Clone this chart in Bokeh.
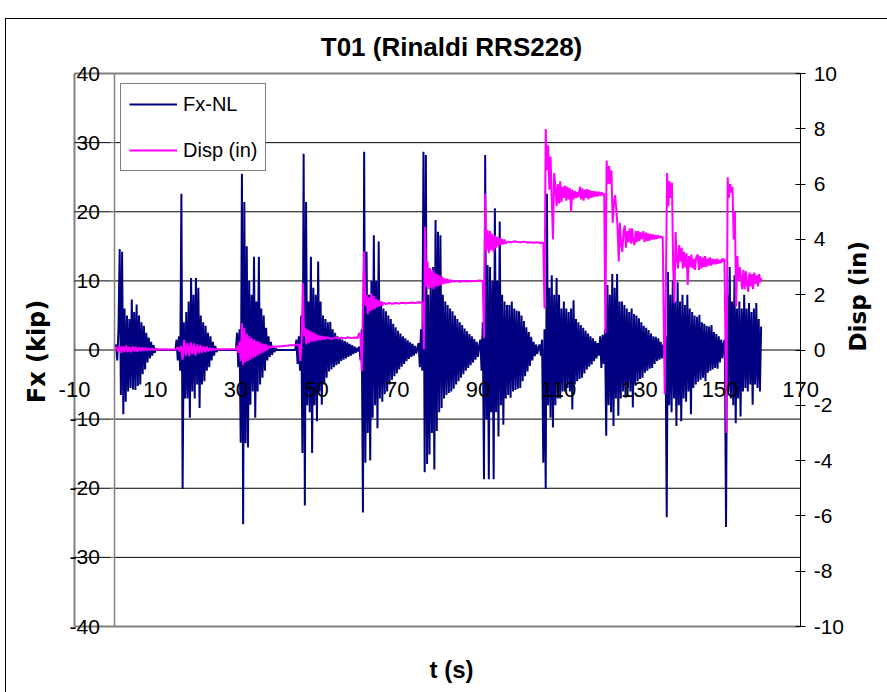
import math
from bokeh.plotting import figure
from bokeh.models import Range1d, LinearAxis, FixedTicker, Legend, LegendItem
from bokeh.embed import file_html
from bokeh.resources import INLINE

# ---------------- data ----------------
title_text = "T01 (Rinaldi RRS228)"
x_ticks = [-10, 10, 30, 50, 70, 90, 110, 130, 150, 170]
fx_ticks = [-40, -30, -20, -10, 0, 10, 20, 30, 40]
disp_ticks = [-10, -8, -6, -4, -2, 0, 2, 4, 6, 8, 10]
t_min, t_max = -10, 170
fx_min, fx_max = -40, 40
disp_min, disp_max = -10, 10

# Fx-NL (kip): bursts sampled every 0.3 s, each with its start time
fx_step = 0.3
fx_starts = [0.0, 15.0, 30.0, 44.7, 60.6, 75.3, 90.6, 105.3, 120.3, 136.2, 151.2]
fx_burst1 = [0, 0.8, -1.5, 3, 14.6, -6.5, 14.2, -9.3, 6, -7.5, 5, -6, 4.5, -5.5, 7.3, -5.7, 5.5, -5.8,
             6.6, -5.2, 5, -5, 4, -3.5, 3.5, -2.8, 2.5, -1.8, 1.8, -1.2, 1.2, -0.8, 0.7, -0.4, 0.2, 0]
fx_burst2 = [0, 1.5, -1.5, 2, -3, 22.6, -20.1, 4, -7, 5.5, -7, 7, -9.8, 10.4, -6, 8, -7, 10.4, -5, 9,
             -8.4, 5, -5, 4, -4.5, 3.5, -3, 2.5, -2.5, 2, -1.5, 1.2, -0.8, 0.6, -0.3, 0.1, 0]
fx_burst3 = [0, 2.5, -2.5, 3, -13.4, 25.5, -25.2, 21.4, -13.5, 15, -14.1, 10, -7.9, 8, -6, 13.5, -9.8,
             7, -6, 13.5, -5, 6, -4, 5, -3, 3.2, -1.5, 2, -1, 1.2, -0.7, 0.6, -0.3, 0.2, 0]
fx_burst4 = [0, 1.5, -2, 2, -3, 5, -14.9, 28.4, -22.5, 21.4, -8, 7, -9, 13.5, -14.9, 9, -8, 8, -10.3,
             12.8, -6, 7, -7.9, 5, -5, 4.5, -4, 4, -3.1, 4.1, -2.8, 3, -2.5, 2.5, -2.2, 2, -2, 1.8,
             -1.6, 1.5, -1.4, 1.3, -1.2, 1.1, -1, 0.9, -0.8, 0.7, -0.6, 0.5, -0.4, 0.3, -0.2]
fx_burst5 = [0.5, -1.5, 3, -23.5, 28.7, -16.3, 14.2, -12, 8, -16, 10, -9.8, 16.6, -8, 10, -11.3, 15.7,
             -7, 7, -7.5, 6, -6.4, 5.6, -6, 5, -5, 4.5, -4.3, 3.8, -3.8, 3.3, -3.4, 2.8, -2.8, 2.4,
             -2.4, 2, -2, 1.7, -1.6, 1.4, -1.3, 1.1, -1, 0.9, -0.8, 0.6, -0.5, 0.3]
fx_burst6 = [1, -2.5, 3, -3, 28.7, -17.7, 28.2, -16.5, 8, -15.1, 10, -12, 12, -17.3, 18.8, -11.7, 17.1,
             -9, 16.6, -8.4, 8, -7, 7, -6.5, 6.5, -6.2, 6, -6, 5.6, -5.6, 5, -5, 4.5, -4.5, 4, -4,
             3.6, -3.5, 3.1, -3, 2.7, -2.6, 2.3, -2.2, 2, -1.8, 1.6, -1.4, 1.2, -1, 0.6]
fx_burst7 = [1.5, -3, 4, -18.7, 28.2, -10, 12.3, -18.7, 12, -9, 10, -18.7, 20.5, -9, 10, -12.5, 18.6,
             -8, 8, -10.8, 7, -7, 6.5, -6.5, 6.5, -6.9, 7, -6, 6, -5.8, 5.7, -5.6, 5.6, -5.5, 5,
             -4.5, 4.2, -3.8, 3.3, -3.1, 2.6, -2.3, 1.9, -1.5, 1.2, -0.9, 0.8, -0.6, 0.4]
fx_burst8 = [0.8, -0.8, 1.5, -16.3, 3, -20.1, 22.6, -8, 9, -9.8, 10.8, -11.2, 8, -8, 10.4, -7, 8, -7,
             6, -6, 7, -6, 6, -5.5, 5.5, -6, 6, -8.6, 7.2, -5, 4.5, -4.5, 4, -4.2, 3.6, -4, 3.2,
             -3.4, 2.8, -2.8, 2.4, -2.4, 2, -2.1, 1.7, -1.6, 1.3, -1.2, 1, -0.8]
fx_burst9 = [2, -2.6, 2.2, -2, 3, -12.4, 9.4, -8, 8, -9, 11, -11, 9, -7, 11, -9.5, 7, -7, 7, -6, 6.5,
             -6.9, 6, -5.5, 5.5, -6, 6, -8.3, 5.2, -5, 5, -4.5, 4.6, -4.2, 4, -4, 3.5, -3.3, 3.2, -3,
             2.9, -2.7, 2.4, -2.6, 2, -2, 1.9, -1.6, 1.7, -1.4, 1.2, -1.2, 0.8]
fx_burst10 = [-1, 2, -24.2, 11.3, -8, 8, -9, 10.1, -7, 7, -11, 9.8, -8, 7, -10.3, 8, -7, 6.5, -7.5, 8,
              -6, 6, -9.3, 5.5, -5.5, 5, -5, 4.8, -4.6, 5.1, -4.3, 4, -4, 3.8, -4.5, 3.5, -3.3, 3.4,
              -3, 3.6, -2.8, 2.6, -2.6, 2.3, -2.7, 2, -1.8, 1.5, -1.2, 1]
fx_burst11 = [1.5, -25.6, 8, -6, 12, -7, 7, -8, 10.8, -10.6, 6, -7, 7, -9.6, 6, -6, 8, -5.5, 6, -6,
              6.8, -5, 5.5, -7.9, 6, -5, 6.8, -5.5, 4.5, -6, 3.4]
fx_bursts = [fx_burst1, fx_burst2, fx_burst3, fx_burst4, fx_burst5, fx_burst6,
             fx_burst7, fx_burst8, fx_burst9, fx_burst10, fx_burst11]

# Disp (in): segments (start time, sample step, values)
disp_starts = [0.0, 15.2, 30.0, 38.4, 45.7, 53.0, 60.6, 67.2, 76.3, 84.0,
               91.5, 97.4, 106.5, 115.3, 121.6, 131.0, 136.3, 144.5, 151.3]
disp_steps = [0.4, 0.4, 0.3, 1.0, 0.3, 0.8, 0.3, 0.8, 0.3, 0.8,
              0.3, 0.8, 0.3, 0.3, 0.3, 0.3, 0.3, 0.3, 0.3]
disp_seg1 = [0, 0.12, -0.06, 0.15, -0.1, 0.14, -0.08, 0.16, -0.07, 0.12, -0.08, 0.13, -0.05, 0.12,
             -0.06, 0.1, -0.04, 0.09, -0.03, 0.08, -0.02, 0.06, 0, 0.05, 0.01, 0.03]
disp_seg2 = [0.02, 0.1, -0.05, 0.15, -0.35, 0.37, -0.2, 0.25, -0.22, 0.28, -0.15, 0.24, -0.2, 0.2,
             -0.12, 0.18, -0.1, 0.14, -0.08, 0.12, -0.05, 0.08, -0.02, 0.05, 0.01, 0.03]
disp_seg3 = [0.03, 0.15, -0.1, 0.3, -0.4, 0.97, -0.53, 0.8, -0.45, 0.6, -0.4, 0.5, -0.35, 0.43, -0.3,
             0.38, -0.25, 0.33, -0.2, 0.3, -0.15, 0.25, -0.1, 0.22, -0.05, 0.2, 0, 0.15]
disp_seg4 = [0.1, 0.12, 0.13, 0.14, 0.15, 0.17, 0.18, 0.2]
disp_seg5 = [0.15, -0.4, 0.3, 2.42, 0.5, 0.8, 0.2, 0.75, 0.25, 0.7, 0.3, 0.65, 0.3, 0.6, 0.32, 0.55,
             0.35, 0.52, 0.36, 0.5, 0.38, 0.48, 0.4, 0.46]
disp_seg6 = [0.44, 0.4, 0.46, 0.41, 0.45, 0.42, 0.46, 0.43, 0.45, 0.44]
disp_seg7 = [0.62, 0.45, -0.77, 1.5, 3.56, 1.6, 2.0, 1.3, 1.9, 1.4, 2.05, 1.45, 1.95, 1.5, 1.85, 1.55,
             1.8, 1.58, 1.75, 1.6, 1.72]
disp_seg8 = [1.66, 1.7, 1.67, 1.7, 1.68, 1.71, 1.69, 1.7, 1.72, 1.7, 1.73, 1.72]
disp_seg9 = [1.72, 0.02, 4.46, 2.3, 3.2, 2.2, 2.96, 2.25, 2.9, 2.2, 2.8, 2.3, 2.75, 2.3, 2.7, 2.35,
             2.65, 2.38, 2.6, 2.4, 2.58, 2.42, 2.55, 2.44, 2.52]
disp_seg10 = [2.48, 2.5, 2.47, 2.5, 2.48, 2.5, 2.49, 2.5, 2.51, 2.5]
disp_seg11 = [0.43, 5.66, 3.6, 4.34, 3.5, 4.3, 3.6, 4.2, 3.55, 4.15, 3.7, 4.1, 3.75, 4.05, 3.8, 4.02,
              3.82, 4.0, 3.85]
disp_seg12 = [3.92, 3.9, 3.93, 3.91, 3.9, 3.92, 3.89, 3.9, 3.88, 3.9, 3.87, 3.88]
disp_seg13 = [1.5, 7.99, 6.5, 7.4, 5.8, 7.0, 5.5, 4.0, 6.4, 5.9, 5.2, 6.0, 5.3, 6.1, 5.35, 5.9, 5.5,
              5.95, 5.4, 5.9, 5.45, 5.85, 5.0, 5.8, 5.45, 5.75, 5.5, 5.72, 5.52]
disp_seg14 = [5.9, 5.45, 5.85, 5.4, 5.8, 5.5, 5.82, 5.45, 5.78, 5.5, 5.75, 5.52, 5.74, 5.55, 5.72,
              5.56, 5.72, 5.58, 5.7, 5.6, 5.66]
disp_seg15 = [0.6, 6.85, 6.0, 6.65, 6.0, 6.5, 4.6, 5.3, 5.6, 5.1, 4.5, 3.2, 4.6, 3.8, 3.55, 4.3, 4.5,
              3.7, 4.3, 3.9, 4.4, 3.85, 4.4, 3.9, 3.8, 4.3, 3.9, 4.3, 3.95, 4.25, 4.0]
disp_seg16 = [4.3, 3.9, 4.25, 3.95, 4.22, 3.95, 4.2, 4.0, 4.18, 4.0, 4.16, 4.02, 4.15, 4.05, 4.12,
              4.06, 4.1]
disp_seg17 = [-1.6, 2.5, 6.4, 5.2, 6.1, 5.5, 6.05, 3.0, 1.7, 4.27, 3.3, 2.95, 3.8, 3.2, 3.7, 2.95,
              3.55, 3.0, 3.5, 2.35, 3.4, 3.0, 3.45, 2.95, 3.3, 2.9, 3.35]
disp_seg18 = [3.45, 2.9, 3.4, 2.95, 3.35, 3.0, 3.4, 3.0, 3.3, 3.05, 3.35, 3.05, 3.3, 3.1, 3.28, 3.1,
              3.3, 3.12, 3.25, 3.15, 3.3, 3.2, 3.3]
disp_seg19 = [1.0, -3.0, 6.25, 5.5, 6.0, 5.7, 5.9, 4.0, 5.0, 1.57, 3.4, 2.5, 3.0, 2.6, 2.2, 2.9, 2.2,
              2.85, 2.4, 2.1, 2.8, 2.3, 2.75, 2.2, 2.8, 2.4, 2.7, 2.3, 2.75, 2.45, 2.6]
disp_segs = [disp_seg1, disp_seg2, disp_seg3, disp_seg4, disp_seg5, disp_seg6, disp_seg7,
             disp_seg8, disp_seg9, disp_seg10, disp_seg11, disp_seg12, disp_seg13, disp_seg14,
             disp_seg15, disp_seg16, disp_seg17, disp_seg18, disp_seg19]


def assemble(starts, steps, segs):
    t, v = [], []
    for s, d, seg in zip(starts, steps, segs):
        for i, val in enumerate(seg):
            t.append(round(s + d * i, 3))
            v.append(val)
    return t, v


fx_t, fx_v = assemble(fx_starts, [fx_step] * len(fx_starts), fx_bursts)
disp_t, disp_v = assemble(disp_starts, disp_steps, disp_segs)

# ---------------- styling ----------------
FONT = "Liberation Sans"
WIDE = "DejaVu Sans"

def hyphen_labels(ticks):
    return {t: str(t) for t in ticks}

# frame a little larger than the plot area so that the crossing axes' labels are not clipped
frame_x = Range1d(-15.7, 182.6)
frame_y = Range1d(-42.17, 41.74)
ratio = (disp_max - disp_min) / (fx_max - fx_min)

p = figure(width=882, height=674, x_range=frame_x, y_range=frame_y,
           output_backend="svg", toolbar_location=None,
           min_border_left=45, min_border_right=37, min_border_top=42, min_border_bottom=52,
           margin=(18, 0, 0, 5),
           styles={"border-top": "1px solid #000000", "border-left": "1px solid #000000"})
p.background_fill_color = "white"
p.border_fill_color = "white"
p.outline_line_color = None
p.xgrid.visible = False
p.ygrid.visible = False

p.title.text = title_text
p.title.align = "center"
p.title.text_font = FONT
p.title.text_font_size = "26px"
p.title.text_font_style = "bold"
p.title.text_color = "black"
p.title.standoff = 0

# plot-area border (left, top, bottom edges; the right edge is the Disp axis)
p.segment(x0=[t_min, t_min, t_min], y0=[fx_min, fx_max, fx_min],
          x1=[t_min, t_max, t_max], y1=[fx_max, fx_max, fx_min],
          line_color="#808080", line_width=2)

# horizontal gridlines
inner = fx_ticks[1:-1]
p.segment(x0=[t_min] * len(inner), x1=[t_max] * len(inner), y0=inner, y1=inner,
          line_color="black", line_width=1)

# x axis crossing at Fx = 0
xa = p.xaxis[0]
xa.fixed_location = 0
xa.ticker = FixedTicker(ticks=x_ticks)
xa.major_label_overrides = hyphen_labels(x_ticks)
xa.axis_line_color = None
xa.major_tick_line_color = None
xa.minor_tick_line_color = None
xa.major_label_standoff = 26
xa.major_label_text_font = FONT
xa.major_label_text_font_size = "22px"
xa.major_label_text_color = "black"

# left (Fx) axis crossing at t = 0
ya = p.yaxis[0]
ya.fixed_location = 0
ya.bounds = (fx_min, fx_max)
ya.ticker = FixedTicker(ticks=fx_ticks)
ya.major_label_overrides = hyphen_labels(fx_ticks)
ya.axis_line_color = "#808080"
ya.axis_line_width = 1.5
ya.major_tick_line_color = "#808080"
ya.major_tick_in = 0
ya.major_tick_out = 4
ya.minor_tick_line_color = None
ya.major_label_standoff = 11
ya.major_label_text_font = FONT
ya.major_label_text_font_size = "21px"
ya.major_label_text_color = "black"

# right (Disp) axis on the plot-area edge
p.extra_y_ranges = {"disp": Range1d(frame_y.start * ratio, frame_y.end * ratio)}
ra = LinearAxis(y_range_name="disp", ticker=FixedTicker(ticks=disp_ticks), fixed_location=t_max)
ra.major_label_overrides = hyphen_labels(disp_ticks)
ra.bounds = (disp_min, disp_max)
ra.axis_line_color = "black"
ra.major_tick_line_color = "black"
ra.major_tick_in = 5
ra.major_tick_out = 5
ra.minor_tick_line_color = None
ra.major_label_standoff = 8
ra.major_label_text_font = FONT
ra.major_label_text_font_size = "21px"
ra.major_label_text_color = "black"
p.add_layout(ra, "right")

# axis titles (label-only axes in the side panels)
def title_axis(text, standoff, size, font):
    ax = LinearAxis(ticker=FixedTicker(ticks=[]), axis_label=text)
    ax.axis_line_color = None
    ax.major_tick_line_color = None
    ax.minor_tick_line_color = None
    ax.axis_label_standoff = standoff
    ax.axis_label_text_font = font
    ax.axis_label_text_font_size = size
    ax.axis_label_text_font_style = "bold"
    ax.axis_label_text_color = "black"
    return ax

lt = title_axis("Fx (kip)", 1, "24px", WIDE)
p.add_layout(lt, "left")
rt = title_axis("Disp (in)", 6, "23px", WIDE)
rt.axis_label_orientation = math.pi / 2
p.add_layout(rt, "right")
bt = title_axis("t (s)", 14, "24px", FONT)
p.add_layout(bt, "below")

# series
r_fx = p.line(fx_t, fx_v, line_color="#000080", line_width=2)
r_disp = p.line(disp_t, disp_v, y_range_name="disp", line_color="#FF00FF", line_width=2)

legend = Legend(items=[LegendItem(label="Fx-NL", renderers=[r_fx]),
                       LegendItem(label="Disp (in)", renderers=[r_disp])],
                location=(69, 470))
legend.border_line_color = "black"
legend.border_line_width = 1
legend.background_fill_color = "white"
legend.background_fill_alpha = 1
legend.label_text_font = FONT
legend.label_text_font_size = "20px"
legend.label_text_color = "black"
legend.glyph_width = 48
legend.glyph_height = 24
legend.label_height = 24
legend.label_standoff = 6
legend.padding = 8
legend.spacing = 22
legend.margin = 0
p.add_layout(legend)

open("out.html", "w").write(file_html(p, INLINE))
